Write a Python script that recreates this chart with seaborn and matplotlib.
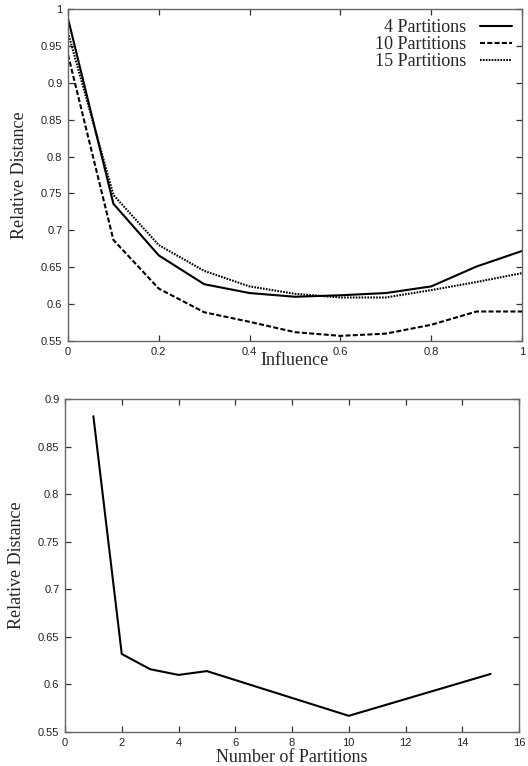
import numpy as np
import pandas as pd
import matplotlib
matplotlib.use('Agg')
import matplotlib.pyplot as plt
from matplotlib.ticker import FuncFormatter, MultipleLocator
import seaborn as sns

# Top panel: relative distance vs influence
influence = [0.0, 0.1, 0.2, 0.3, 0.4, 0.5, 0.6, 0.7, 0.8, 0.9, 1.0]
dist_4 = [0.987, 0.736, 0.666, 0.627, 0.615, 0.610, 0.612, 0.615, 0.624, 0.651, 0.672]
dist_10 = [0.938, 0.687, 0.621, 0.589, 0.576, 0.562, 0.557, 0.560, 0.572, 0.590, 0.590]
dist_15 = [0.968, 0.748, 0.680, 0.645, 0.624, 0.614, 0.609, 0.609, 0.619, 0.630, 0.642]
series_labels = ['4 Partitions', '10 Partitions', '15 Partitions']

# Bottom panel: relative distance vs number of partitions
n_parts = [1, 2, 3, 4, 5, 10, 15]
dist_parts = [0.882, 0.632, 0.616, 0.610, 0.614, 0.567, 0.611]

sns.set_style('ticks')
plt.rcParams['font.family'] = ['Liberation Sans', 'DejaVu Sans']

serif = 'Liberation Serif'
spine_col = '#666666'

fig = plt.figure(figsize=(5.28, 7.66), dpi=100)
ax1 = fig.add_axes([0.1288, 0.5548, 0.8598, 0.4335])
ax2 = fig.add_axes([0.1231, 0.0444, 0.8599, 0.4347])

top_df = pd.DataFrame({
    'Influence': influence * 3,
    'Distance': dist_4 + dist_10 + dist_15,
    'Series': sum([[s] * len(influence) for s in series_labels], []),
})

styles = {
    '4 Partitions': '-',
    '10 Partitions': (0, (2.4, 1.1)),
    '15 Partitions': (0, (0.8, 0.6)),
}

for lab in series_labels:
    sub = top_df[top_df['Series'] == lab]
    sns.lineplot(data=sub, x='Influence', y='Distance', ax=ax1, color='black',
                 lw=1.5, linestyle=styles[lab], label=lab)

sns.lineplot(x=n_parts, y=dist_parts, ax=ax2, color='black', lw=1.5)


def fmt(v, pos):
    return '%g' % round(v, 4)


for ax in (ax1, ax2):
    for sp in ax.spines.values():
        sp.set_visible(True)
        sp.set_color(spine_col)
        sp.set_linewidth(1.0)
    ax.tick_params(direction='in', length=4, width=0.9, color='#333333',
                   top=True, right=True, labelsize=8, labelcolor='#222222', pad=4)
    ax.yaxis.set_major_formatter(FuncFormatter(fmt))
    ax.xaxis.set_major_formatter(FuncFormatter(fmt))
    ax.set_ylabel('Relative Distance', family=serif, fontsize=13, labelpad=9)

ax1.set_xlim(0, 1)
ax1.set_ylim(0.55, 1.0)
ax1.xaxis.set_major_locator(MultipleLocator(0.2))
ax1.yaxis.set_major_locator(MultipleLocator(0.05))
ax1.set_xlabel('Influence', family=serif, fontsize=13, labelpad=-3)

ax2.set_xlim(0, 16)
ax2.set_ylim(0.55, 0.9)
ax2.xaxis.set_major_locator(MultipleLocator(2))
ax2.yaxis.set_major_locator(MultipleLocator(0.05))
ax2.set_xlabel('Number of Partitions', family=serif, fontsize=13, labelpad=1)

leg = ax1.legend(loc='upper right', frameon=False, markerfirst=False,
                 alignment='right', handlelength=1.8, handletextpad=0.75,
                 labelspacing=0.0, borderaxespad=0.15,
                 prop={'family': serif, 'size': 13})

fig.savefig('out.png', dpi=100)
